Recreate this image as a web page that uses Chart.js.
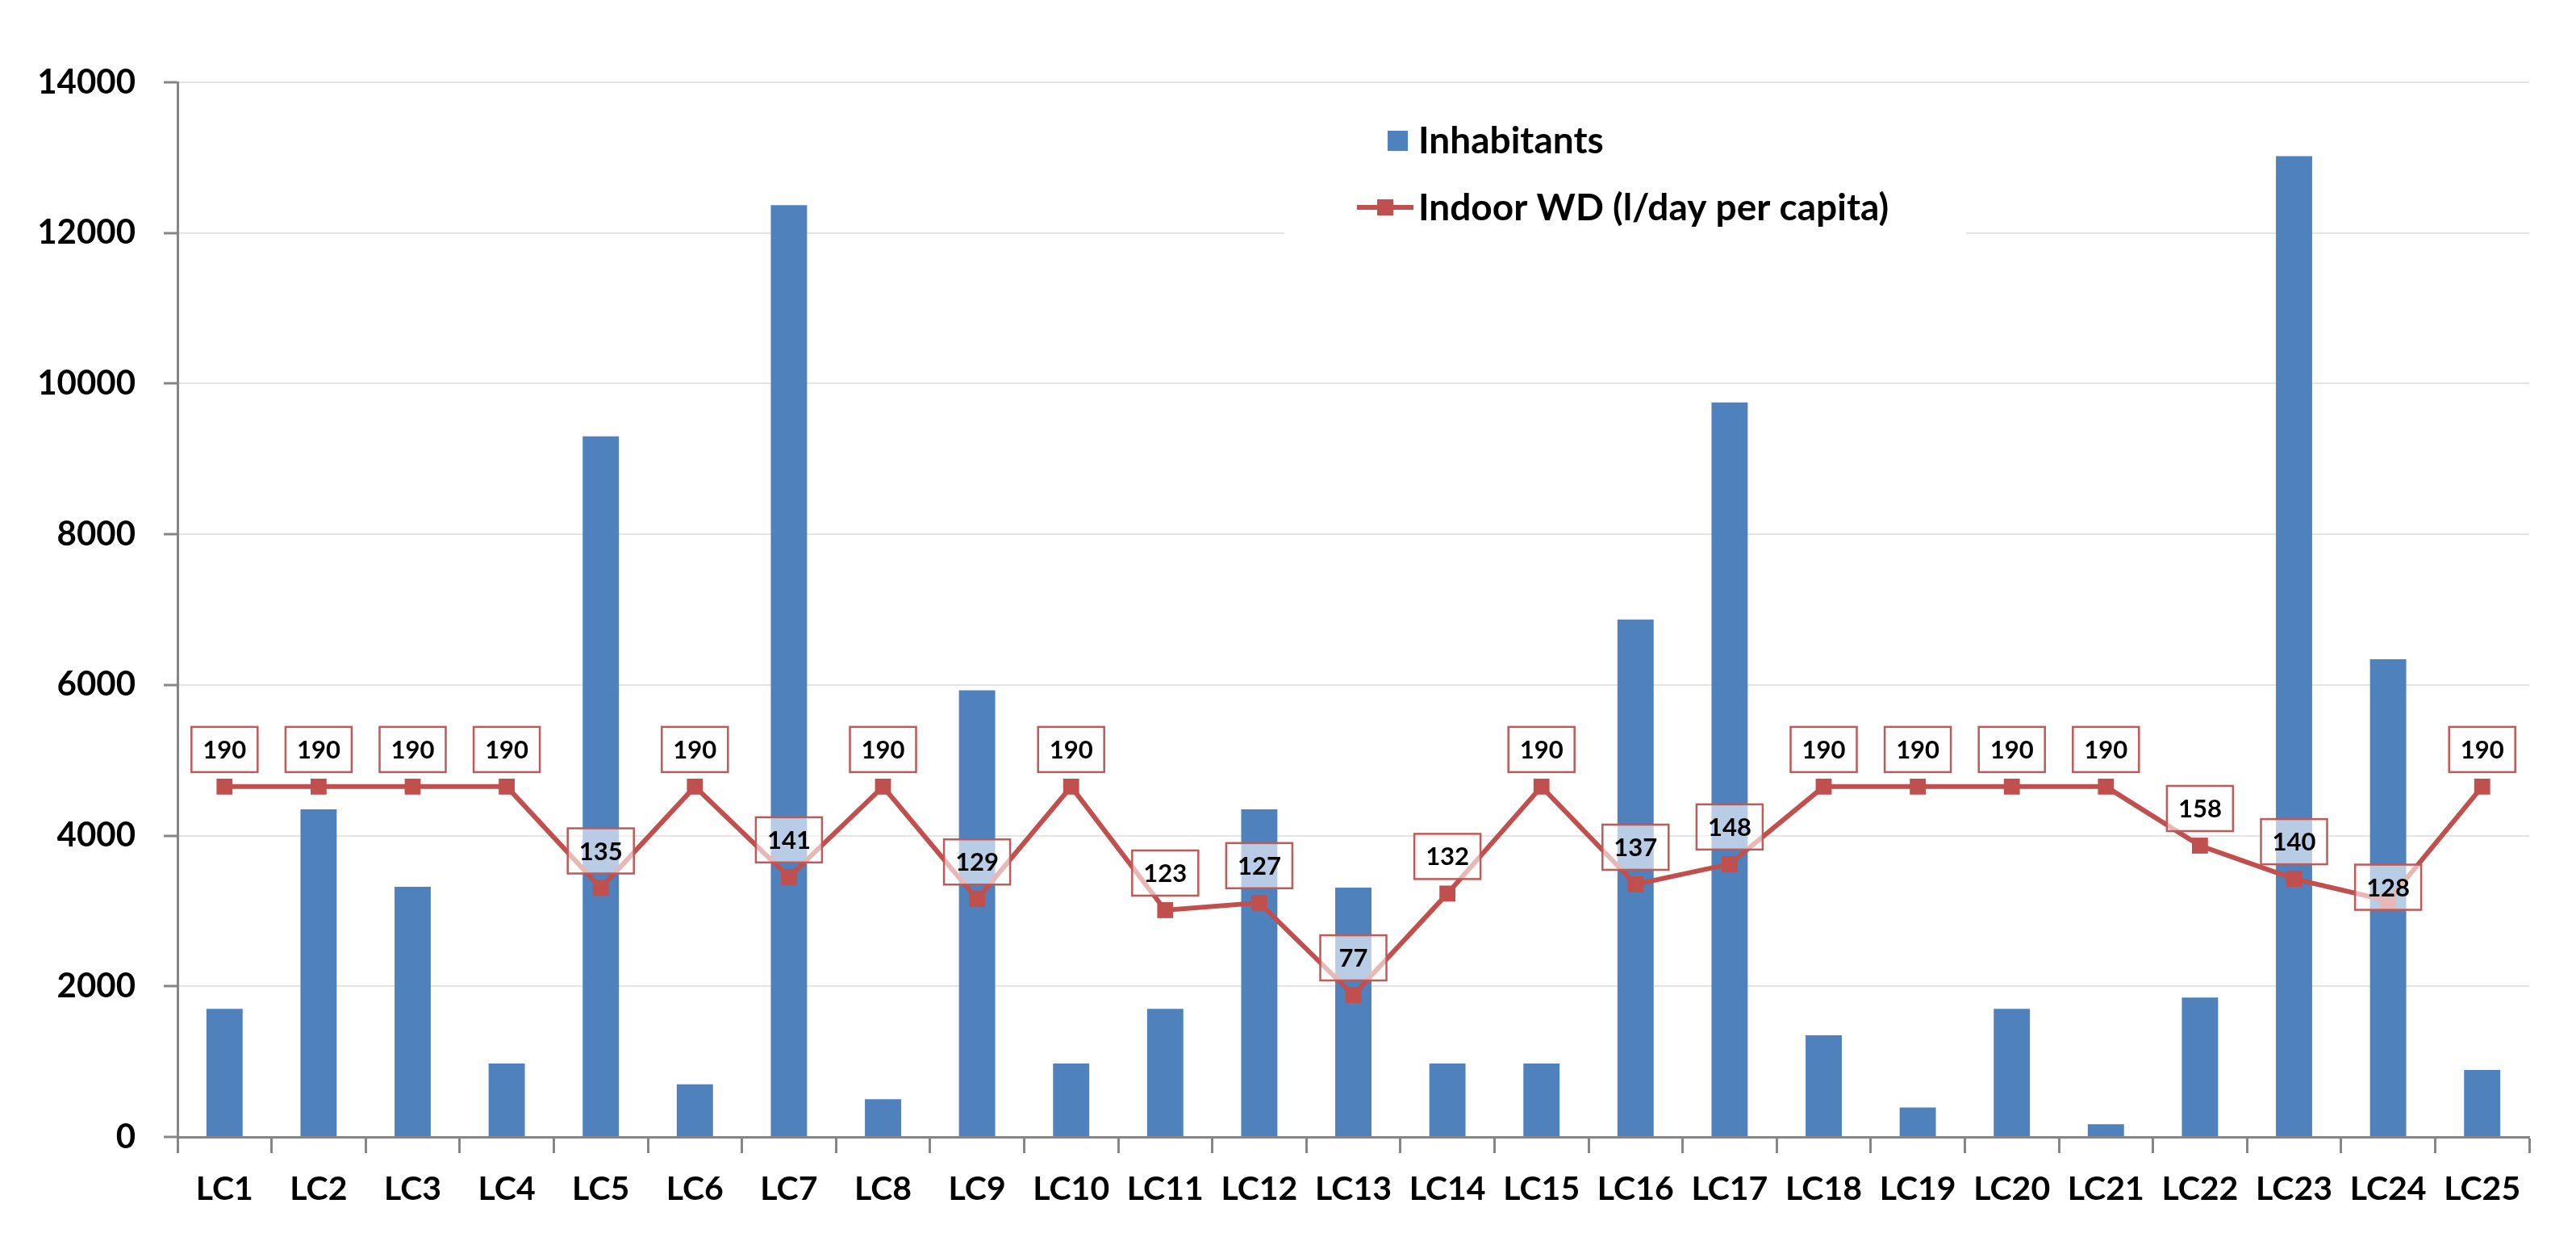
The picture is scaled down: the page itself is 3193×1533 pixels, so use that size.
<!DOCTYPE html>
<html>
<head>
<meta charset="utf-8">
<script src="https://cdn.jsdelivr.net/npm/chart.js@4.4.1/dist/chart.umd.min.js"></script>
<style>
  html, body { margin: 0; padding: 0; background: #ffffff; }
  #wrap { width: 3193px; height: 1533px; }
</style>
</head>
<body>
<div id="wrap"><canvas id="c" width="3193" height="1533"></canvas></div>
<script>
// ---- data ----
const categories = ['LC1','LC2','LC3','LC4','LC5','LC6','LC7','LC8','LC9','LC10','LC11','LC12','LC13','LC14','LC15','LC16','LC17','LC18','LC19','LC20','LC21','LC22','LC23','LC24','LC25'];
const inhabitants = [1700, 4350, 3320, 975, 9300, 700, 12370, 500, 5930, 975, 1700, 4350, 3310, 975, 975, 6870, 9750, 1350, 390, 1700, 170, 1850, 13020, 6340, 890];
const indoorWD = [190, 190, 190, 190, 135, 190, 141, 190, 129, 190, 123, 127, 77, 132, 190, 137, 148, 190, 190, 190, 190, 158, 140, 128, 190];
const yTicks = [0, 2000, 4000, 6000, 8000, 10000, 12000, 14000];
const seriesNames = ['Inhabitants', 'Indoor WD (l/day per capita)'];

const FONT = 'Lato, "Open Sans", "Noto Sans", sans-serif';
const BLUE = '#4F81BD';
const RED = '#C0504D';
const AXIS = '#868686';

// value labels on the line points
const valueLabels = {
  id: 'valueLabels',
  afterDatasetsDraw(chart, args, opts) {
    const meta = chart.getDatasetMeta(1);
    const ctx = chart.ctx;
    const shifts = opts.shifts || {};
    ctx.save();
    ctx.font = 'bold 31px ' + FONT;
    ctx.textAlign = 'center';
    ctx.textBaseline = 'middle';
    meta.data.forEach((pt, i) => {
      const w = 82, h = 56;
      const off = (i in shifts) ? shifts[i] : opts.offset;
      const cx = pt.x, cy = pt.y - off;
      ctx.fillStyle = 'rgba(255,255,255,0.6)';
      ctx.fillRect(cx - w / 2, cy - h / 2, w, h);
      ctx.strokeStyle = '#BE5A57';
      ctx.lineWidth = 2.5;
      ctx.strokeRect(cx - w / 2, cy - h / 2, w, h);
      ctx.fillStyle = '#000000';
      ctx.fillText(String(chart.data.datasets[1].data[i]), cx, cy + 1);
    });
    ctx.restore();
  }
};

// legend inside the plot
const innerLegend = {
  id: 'innerLegend',
  beforeDatasetsDraw(chart) {
    const ctx = chart.ctx;
    ctx.save();
    ctx.fillStyle = '#ffffff';
    ctx.fillRect(1592, 118, 845, 186);
    ctx.font = 'bold 46px ' + FONT;
    ctx.textAlign = 'left';
    ctx.textBaseline = 'middle';
    // bar item
    ctx.fillStyle = BLUE;
    ctx.fillRect(1720, 162, 25, 25);
    ctx.fillStyle = '#000000';
    ctx.fillText(chart.data.datasets[0].label, 1758, 175);
    // line item
    ctx.strokeStyle = RED;
    ctx.lineWidth = 6;
    ctx.beginPath();
    ctx.moveTo(1682, 257);
    ctx.lineTo(1752, 257);
    ctx.stroke();
    ctx.fillStyle = RED;
    ctx.fillRect(1707, 247, 20, 20);
    ctx.fillStyle = '#000000';
    ctx.fillText(chart.data.datasets[1].label, 1758, 258);
    ctx.restore();
  }
};

new Chart(document.getElementById('c'), {
  data: {
    labels: categories,
    datasets: [
      {
        type: 'bar',
        label: seriesNames[0],
        data: inhabitants,
        backgroundColor: BLUE,
        borderWidth: 0,
        barPercentage: 0.385,
        categoryPercentage: 1.0,
        yAxisID: 'y',
        order: 1
      },
      {
        type: 'line',
        label: seriesNames[1],
        data: indoorWD,
        borderColor: RED,
        backgroundColor: RED,
        borderWidth: 6,
        pointStyle: 'rect',
        pointRadius: 14,
        pointBorderWidth: 0,
        pointBackgroundColor: RED,
        tension: 0,
        yAxisID: 'y1',
        order: 0
      }
    ]
  },
  options: {
    responsive: false,
    animation: false,
    devicePixelRatio: 1,
    layout: { padding: { top: 102, left: 0, right: 58, bottom: 0 } },
    plugins: {
      legend: { display: false },
      tooltip: { enabled: false },
      title: { display: false },
      valueLabels: { offset: 46, shifts: { 23: 17 } }
    },
    scales: {
      x: {
        type: 'category',
        offset: true,
        grid: {
          display: true,
          offset: true,
          drawOnChartArea: false,
          drawTicks: true,
          tickLength: 20,
          tickColor: AXIS,
          tickWidth: 3
        },
        border: { display: true, color: AXIS, width: 3 },
        ticks: {
          color: '#000000',
          font: { family: FONT, size: 41, weight: 'bold' },
          padding: 20,
          maxRotation: 0,
          autoSkip: false
        },
        afterFit(scale) { scale.height = 124; }
      },
      y: {
        type: 'linear',
        position: 'left',
        min: 0,
        max: 14000,
        afterBuildTicks(scale) { scale.ticks = yTicks.map(v => ({ value: v })); },
        grid: {
          color: '#E4E4E4',
          lineWidth: 2,
          drawTicks: true,
          tickLength: 17,
          tickColor: AXIS,
          tickWidth: 3
        },
        border: { display: true, color: AXIS, width: 3 },
        ticks: {
          color: '#000000',
          font: { family: FONT, size: 42, weight: 'bold' },
          padding: 35,
          callback: (v) => String(v)
        },
        afterFit(scale) { scale.width = 220; }
      },
      y1: {
        type: 'linear',
        display: false,
        min: 0,
        max: 572,
        grid: { display: false }
      }
    }
  },
  plugins: [innerLegend, valueLabels]
});
</script>
</body>
</html>
